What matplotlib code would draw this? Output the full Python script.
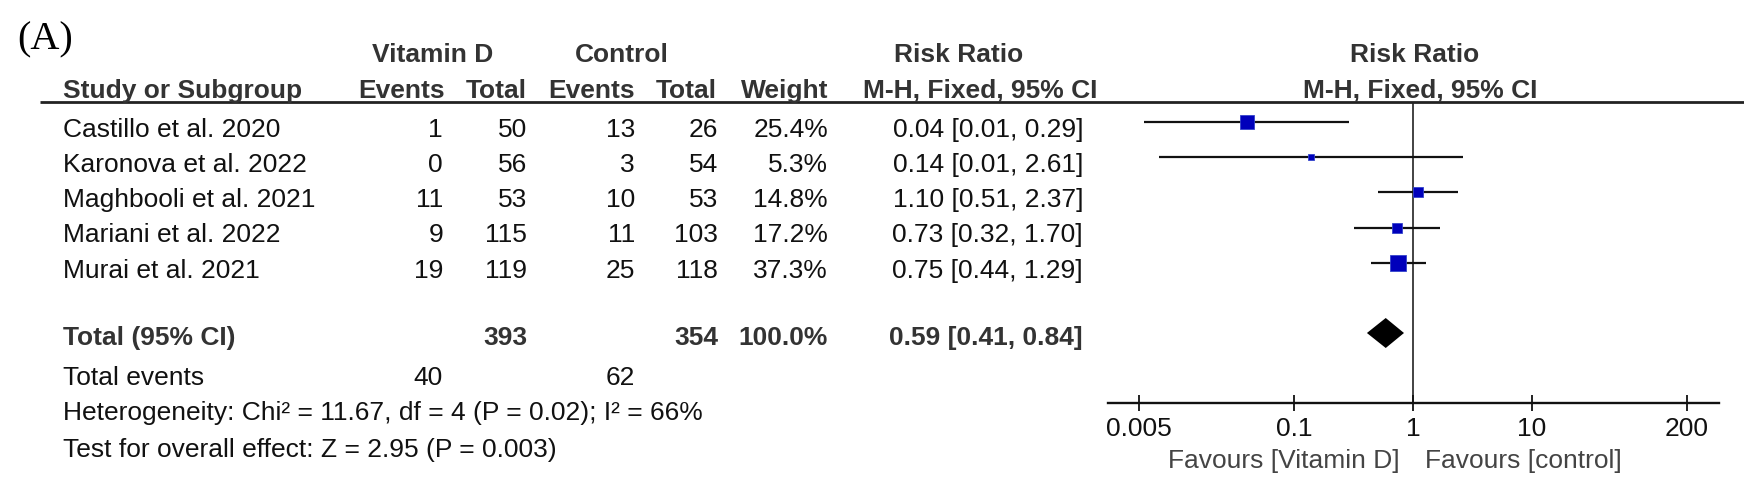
import numpy as np
import matplotlib
matplotlib.use('Agg')
import matplotlib.pyplot as plt

plt.rcParams['font.family'] = ['Liberation Sans', 'DejaVu Sans']

# data
studies = ['Castillo et al. 2020', 'Karonova et al. 2022', 'Maghbooli et al. 2021',
           'Mariani et al. 2022', 'Murai et al. 2021']
vd_events = [1, 0, 11, 9, 19]
vd_total = [50, 56, 53, 115, 119]
ctl_events = [13, 3, 10, 11, 25]
ctl_total = [26, 54, 53, 103, 118]
weight = [25.4, 5.3, 14.8, 17.2, 37.3]
rr = [0.04, 0.14, 1.10, 0.73, 0.75]
ci_lo = [0.0055, 0.0073, 0.51, 0.32, 0.44]
ci_hi = [0.29, 2.61, 2.37, 1.70, 1.29]

total_vd, total_ctl = 393, 354
events_vd, events_ctl = 40, 62
pooled = [0.59, 0.41, 0.84]
heterogeneity = 'Heterogeneity: Chi\u00b2 = 11.67, df = 4 (P = 0.02); I\u00b2 = 66%'
overall = 'Test for overall effect: Z = 2.95 (P = 0.003)'
ticks = [0.005, 0.1, 1, 10, 200]
tick_labels = ['0.005', '0.1', '1', '10', '200']

W, H = 1744, 486
fig = plt.figure(figsize=(W / 100, H / 100), dpi=100)

# table part, pixel coordinates
tab = fig.add_axes([0, 0, 1, 1])
tab.set_xlim(0, W)
tab.set_ylim(H, 0)
tab.axis('off')

fs = 19
dark = '#333333'
ink = '#111111'
cap = 9.5  # half cap height in px, text is placed by baseline


def put(x, y, s, ha='left', bold=False, color=ink, **kw):
    tab.text(x, y + cap, s, ha=ha, va='baseline', fontsize=fs,
             fontweight='bold' if bold else 'normal', color=color, **kw)


tab.text(17, 36 + 13, '(A)', fontsize=29, family='Liberation Serif',
         va='baseline', ha='left', color='black')

# headers
put(433, 53, 'Vitamin D', ha='center', bold=True, color=dark)
put(622, 53, 'Control', ha='center', bold=True, color=dark)
put(959, 53, 'Risk Ratio', ha='center', bold=True, color=dark)
put(1415, 53, 'Risk Ratio', ha='center', bold=True, color=dark)
put(63, 88, 'Study or Subgroup', bold=True, color=dark)
put(445, 88, 'Events', ha='right', bold=True, color=dark)
put(527, 88, 'Total', ha='right', bold=True, color=dark)
put(635, 88, 'Events', ha='right', bold=True, color=dark)
put(717, 88, 'Total', ha='right', bold=True, color=dark)
put(828, 88, 'Weight', ha='right', bold=True, color=dark)
put(980, 88, 'M-H, Fixed, 95% CI', ha='center', bold=True, color=dark)
put(1420, 88, 'M-H, Fixed, 95% CI', ha='center', bold=True, color=dark)
tab.plot([40, W], [102, 102], color='#222222', lw=2.0, solid_capstyle='butt')

row_y = [127 + 35.25 * i for i in range(len(studies))]
for i, name in enumerate(studies):
    y = row_y[i]
    put(63, y, name)
    put(443, y, str(vd_events[i]), ha='right')
    put(527, y, str(vd_total[i]), ha='right')
    put(635, y, str(ctl_events[i]), ha='right')
    put(718, y, str(ctl_total[i]), ha='right')
    put(828, y, '%.1f%%' % weight[i], ha='right')
    put(1083, y, '%.2f [%.2f, %.2f]' % (rr[i], ci_lo[i], ci_hi[i]), ha='right')

y_tot = 335
put(63, y_tot, 'Total (95% CI)', bold=True, color=dark)
put(527, y_tot, str(total_vd), ha='right', bold=True, color=dark)
put(718, y_tot, str(total_ctl), ha='right', bold=True, color=dark)
put(828, y_tot, '100.0%', ha='right', bold=True, color=dark)
put(1083, y_tot, '%.2f [%.2f, %.2f]' % tuple(pooled), ha='right', bold=True, color=dark)

put(63, 375, 'Total events')
put(443, 375, str(events_vd), ha='right')
put(635, 375, str(events_ctl), ha='right')
put(63, 410, heterogeneity)
put(63, 447, overall)

# forest part
ax_l, ax_r, ax_t, ax_b = 1108, 1719, 103, 403
ax = fig.add_axes([ax_l / W, 1 - ax_b / H, (ax_r - ax_l) / W, (ax_b - ax_t) / H])
ax.patch.set_alpha(0)
ax.set_xscale('log')
dec = 119.0
ax.set_xlim(10 ** (-(1413 - ax_l) / dec), 10 ** ((ax_r - 1413) / dec))
ax.set_ylim(ax_b, ax_t)

ax.axvline(1, color='#222222', lw=1.2, zorder=1)
for i in range(len(studies)):
    y = row_y[i] - 5
    ax.plot([ci_lo[i], ci_hi[i]], [y, y], color=ink, lw=1.6, zorder=2,
            solid_capstyle='butt')
    side = 2.58 * np.sqrt(weight[i]) * 0.72
    ax.plot(rr[i], y, marker='s', ms=side, color='#0000BB',
            mec='#3344CC', mew=0.6, zorder=3)

yd = y_tot - 2
ax.fill([pooled[1], pooled[0], pooled[2], pooled[0]],
        [yd, yd - 15, yd, yd + 15], color='black', lw=0, zorder=3)

for s in ['top', 'left', 'right']:
    ax.spines[s].set_visible(False)
ax.spines['bottom'].set_linewidth(1.7)
ax.spines['bottom'].set_color('#111111')
ax.set_yticks([])
ax.xaxis.set_minor_locator(matplotlib.ticker.NullLocator())
ax.set_xticks(ticks)
ax.set_xticklabels(tick_labels)
ax.tick_params(axis='x', direction='inout', length=12, width=1.3,
               labelsize=fs, pad=4, colors='#111111')

tab.text(1400, 458 + cap, 'Favours [Vitamin D]', ha='right', va='baseline',
         fontsize=fs, color='#444444')
tab.text(1425, 458 + cap, 'Favours [control]', ha='left', va='baseline',
         fontsize=fs, color='#444444')

fig.savefig('out.png', dpi=100)
